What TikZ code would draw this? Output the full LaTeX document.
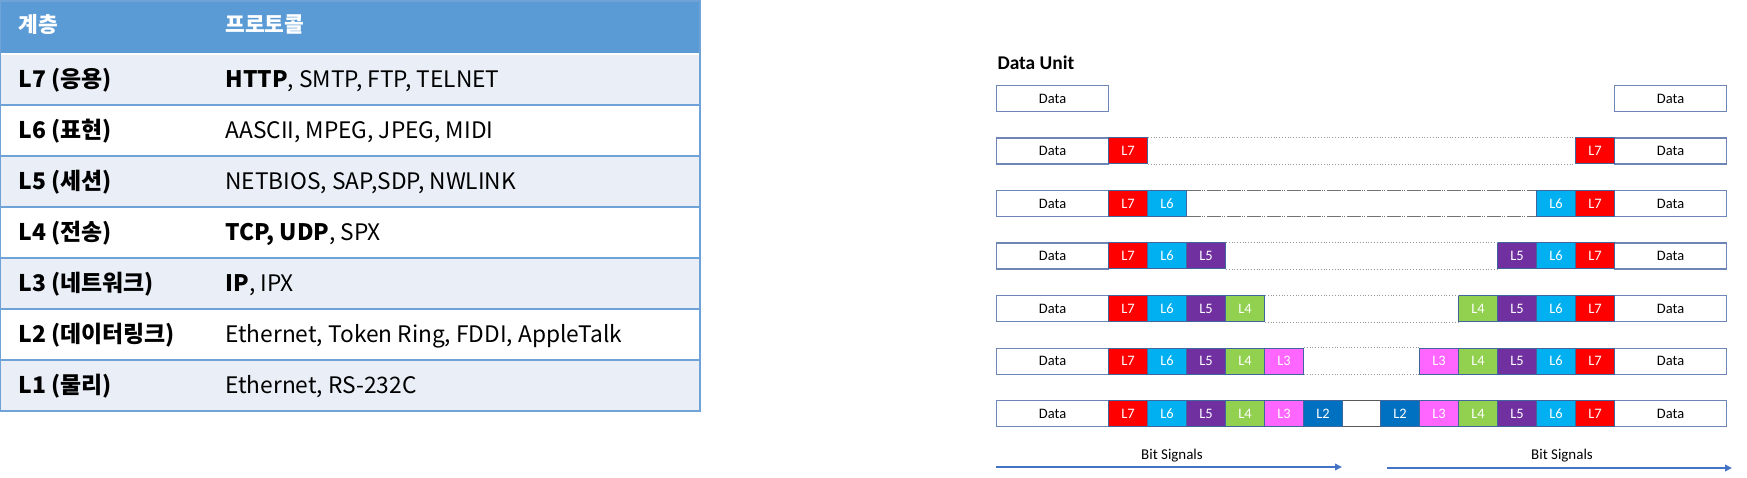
\documentclass[tikz,border=0pt]{standalone}
\usepackage{fontspec}
\setmainfont{Carlito}
\newfontfamily\krfont{Noto Sans CJK KR}
\usetikzlibrary{arrows.meta}
\definecolor{hdr}{HTML}{5B9BD5}
\definecolor{band}{HTML}{E9EEF7}
\definecolor{rule}{HTML}{6FA3D8}
\definecolor{cL7}{HTML}{FF0000}
\definecolor{cL6}{HTML}{00B0F0}
\definecolor{cL5}{HTML}{7030A0}
\definecolor{cL4}{HTML}{92D050}
\definecolor{cL3}{HTML}{FF66FF}
\definecolor{cL2}{HTML}{0070C0}
\definecolor{bord}{HTML}{41669E}
\definecolor{dbord}{HTML}{6D86B5}
\definecolor{arr}{HTML}{4472C4}
\tikzset{
  cell/.style={draw=bord, line width=0.9bp, minimum width=39bp, minimum height=26bp,
    inner sep=0pt, anchor=north west, text=white, font=\fontsize{14.5}{16}\selectfont},
  databox/.style={draw=dbord, line width=1.1bp, minimum width=112bp, minimum height=26bp,
    inner sep=0pt, anchor=north west, fill=white, text=black, font=\fontsize{14.5}{16}\selectfont},
  gapline/.style={gray!80, line width=0.8bp, dotted},
  hdrtext/.style={anchor=base west, text=white, font=\krfont\bfseries\fontsize{21.5}{24}\selectfont},
  laytext/.style={anchor=base west, text=black, font=\krfont\bfseries\fontsize{23}{26}\selectfont},
  protext/.style={anchor=base west, text=black, font=\krfont\fontsize{22.8}{26}\selectfont},
  bitarrow/.style={draw=arr, line width=2.2bp, -{Triangle[length=7bp,width=6.5bp]}},
  bitlabel/.style={anchor=base, font=\fontsize{15}{17}\selectfont}
}
\begin{document}
\begin{tikzpicture}[x=1bp,y=-1bp]
\useasboundingbox (0,0) rectangle (1747,478);
% ---------- table ----------
\fill[hdr] (0,1) rectangle (700,54);
\foreach \i in {0,...,6}{
  \pgfmathsetmacro\top{54+51*\i}
  \pgfmathtruncatemacro\odd{mod(\i,2)}
  \ifnum\odd=0 \fill[band] (0,\top) rectangle (700,\top+51);\fi
}
\foreach \i in {1,...,6}{
  \draw[rule, line width=2bp] (0,54+51*\i) -- (700,54+51*\i);
}
\draw[white, line width=1.5bp] (0,54) -- (700,54);
\draw[rule, line width=2bp] (0,1) rectangle (700,411);
\node[hdrtext] (h1) at (15,33) {계층};
\node[hdrtext] (h2) at (222,33) {프로토콜};
\node[laytext] (lay7) at (15,87.5) {L7 (응용)};
\node[laytext] (lay6) at (15,138.5) {L6 (표현)};
\node[laytext] (lay5) at (15,189.5) {L5 (세션)};
\node[laytext] (lay4) at (15,240.5) {L4 (전송)};
\node[laytext] (lay3) at (15,291.5) {L3 (네트워크)};
\node[laytext] (lay2) at (15,342.5) {L2 (데이터링크)};
\node[laytext] (lay1) at (15,393.5) {L1 (물리)};
\node[protext] (pro7) at (222,87.5) {\textbf{HTTP}, SMTP, FTP, TELNET};
\node[protext] (pro6) at (222,138.5) {AASCII, MPEG, JPEG, MIDI};
\node[protext] (pro5) at (222,189.5) {NETBIOS, SAP,SDP, NWLINK};
\node[protext] (pro4) at (222,240.5) {\textbf{TCP, UDP}, SPX};
\node[protext] (pro3) at (222,291.5) {\textbf{IP}, IPX};
\node[protext] (pro2) at (222,342.5) {Ethernet, Token Ring, FDDI, AppleTalk};
\node[protext] (pro1) at (222,393.5) {Ethernet, RS-232C};
% ---------- data units ----------
\node[anchor=base west, font=\bfseries\fontsize{19.5}{22}\selectfont] (title) at (994,69.5) {Data Unit};
\node[databox] (ld0) at (996,85) {Data};
\node[databox] (rd0) at (1614,85) {Data};
\foreach \r in {1,...,6}{
  \pgfmathsetmacro\yy{85+52.5*\r}
  \node[databox] (ld\r) at (996,\yy) {Data};
  \node[databox] (rd\r) at (1614,\yy) {Data};
  \foreach \k in {1,...,\r}{
    \pgfmathtruncatemacro\n{8-\k}
    \node[cell, fill=cL\n] (l\r-\n) at (1108+39*\k-39,\yy) {L\n};
    \node[cell, fill=cL\n] (r\r-\n) at (1614-39*\k,\yy) {L\n};
  }
}
% gaps between the headers
\foreach \r/\n in {1/7,3/5,4/4,5/3}{
  \draw[gapline] (l\r-\n.north east) -- (r\r-\n.north west);
  \draw[gapline] (l\r-\n.south east) -- (r\r-\n.south west);
}
\draw[gray!90!black, line width=0.9bp, dash pattern=on 14bp off 1.5bp on 1bp off 1bp on 1bp off 1.5bp] (l2-6.north east) -- (r2-6.north west);
\draw[gray!90!black, line width=0.9bp, dash pattern=on 14bp off 1.5bp on 1bp off 1bp on 1bp off 1.5bp] (l2-6.south east) -- (r2-6.south west);
\draw[gray!70!black, line width=1bp] (l6-2.north east) -- (r6-2.north west);
\draw[gray!70!black, line width=1bp] (l6-2.south east) -- (r6-2.south west);
% bit signals
\coordinate (a1s) at (996,467);
\coordinate (a1e) at (1342,467);
\coordinate (a2s) at (1387,468);
\coordinate (a2e) at (1732,468);
\draw[bitarrow] (a1s) -- (a1e);
\draw[bitarrow] (a2s) -- (a2e);
\node[bitlabel] (b1) at (1172,459) {Bit Signals};
\node[bitlabel] (b2) at (1562,459) {Bit Signals};
\end{tikzpicture}
\end{document}
